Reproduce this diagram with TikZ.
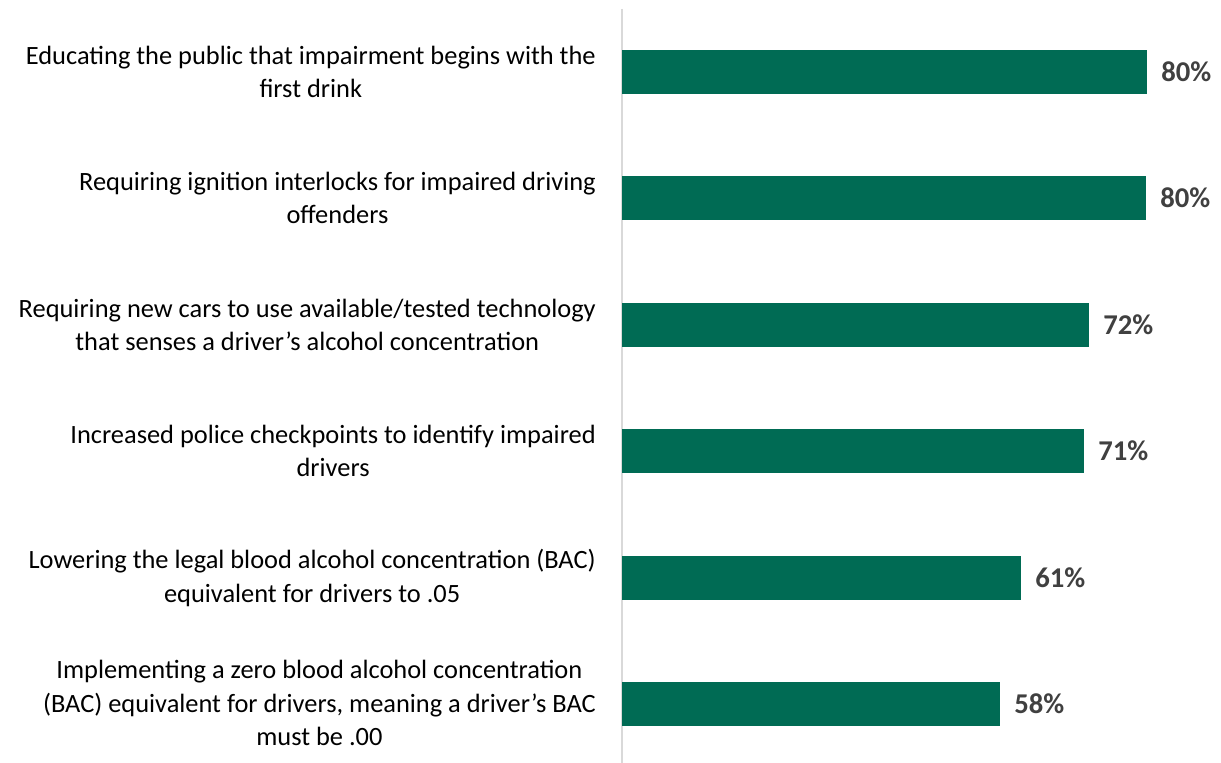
\documentclass[tikz,border=0pt]{standalone}
\usepackage{fontspec}
\setmainfont{Carlito}
\definecolor{barc}{HTML}{006B54}
\definecolor{txtc}{HTML}{404040}
\definecolor{axc}{HTML}{D9D9D9}
\begin{document}
\begin{tikzpicture}[x=0.75pt,y=-0.75pt,
  bar/.style={fill=barc,draw=none},
  cat/.style={anchor=east,align=center,font=\fontsize{19.8}{25}\selectfont,text=black,inner sep=0pt},
  val/.style={anchor=west,font=\bfseries\fontsize{21.5}{24}\selectfont,text=txtc,inner sep=0pt}]
\useasboundingbox (0,0) rectangle (1221,763);
\draw[axc,line width=1.5pt] (622,9) coordinate (axt) -- (622,763) coordinate (axb);
\foreach \i/\yc/\xe/\v in {1/72/1147/80\%,2/198/1146/80\%,3/325/1089/72\%,4/451/1084/71\%,5/578/1021/61\%,6/704/1000/58\%}{
  \fill[bar] (622,\yc-22) rectangle (\xe,\yc+22);
  \coordinate (e\i) at (\xe,\yc);
  \node[val] (v\i) at ([xshift=10.5pt]e\i) {\v};
}
\node[cat] (c1) at (596,72) {Educating the public that impairment begins with the\\first drink};
\node[cat] (c2) at (596,198) {Requiring ignition interlocks for impaired driving\\offenders};
\node[cat] (c3) at (596,325) {Requiring new cars to use available/tested technology\\that senses a driver’s alcohol concentration};
\node[cat] (c4) at (596,451) {Increased police checkpoints to identify impaired\\drivers};
\node[cat] (c5) at (596,578) {Lowering the legal blood alcohol concentration (BAC)\\equivalent for drivers to .05};
\node[cat] (c6) at (596,703) {Implementing a zero blood alcohol concentration\\(BAC) equivalent for drivers, meaning a driver’s BAC\\must be .00};
\end{tikzpicture}
\end{document}
